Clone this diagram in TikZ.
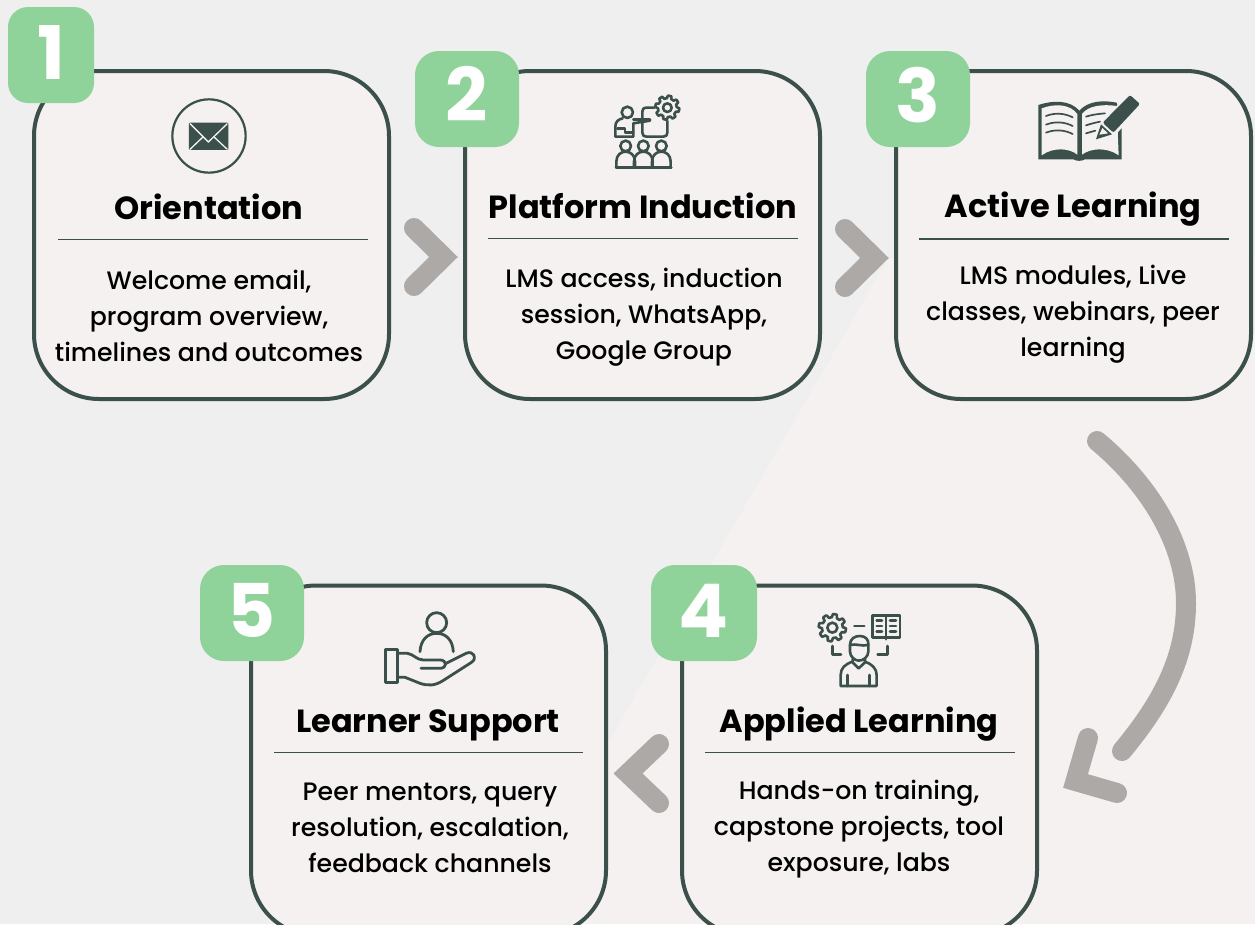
\documentclass[tikz,border=0pt]{standalone}
\usepackage{fontspec}
\setmainfont{Poppins}
\newfontfamily\bodyfont{Poppins Medium}
\definecolor{bgA}{HTML}{EFEFEF}
\definecolor{bgB}{HTML}{F4F1F0}
\definecolor{darkline}{HTML}{3B4F4B}
\definecolor{badgegreen}{HTML}{8FD39A}
\definecolor{arrowgray}{HTML}{ADA9A7}
\tikzset{
  card/.style={draw=darkline,fill=bgB,line width=4pt,rounded corners=65pt,minimum width=355pt,minimum height=#1,inner sep=0pt,outer sep=0pt},
  badge/.style={fill=badgegreen,rounded corners=24pt,inner sep=0pt,text=white,font=\fontsize{74}{74}\selectfont\bfseries},
  cardtitle/.style={font=\fontsize{32}{36}\selectfont\bfseries,text=black,inner sep=0pt},
  cardbody/.style={font=\bodyfont\fontsize{25.2}{36}\selectfont,text=black,align=center,inner sep=0pt},
  rulerline/.style={draw=darkline,line width=1.8pt},
  chev/.style={draw=arrowgray,line width=20pt,line cap=round,line join=miter,miter limit=10},
  icon/.style={draw=darkline,line width=2.6pt,line cap=round,line join=round},
  zoomed/.style={shift={#1},x=0.3333pt,y=-0.3333pt},
}
\newcommand{\gearshape}[6]{% cx cy rin rout hole lw (zoomed units)
  \draw[icon,line width=#6] plot[domain=0:360,samples=193,variable=\t]
   ({#1+(#3+(#4-#3)*(0.5+0.5*max(-1,min(1,2.5*sin(8*\t)))))*cos(\t)},
    {#2+(#3+(#4-#3)*(0.5+0.5*max(-1,min(1,2.5*sin(8*\t)))))*sin(\t)}) -- cycle;
  \draw[icon,line width=#6] (#1,#2) circle [radius=#5];
}
\begin{document}
\begin{tikzpicture}[x=1pt,y=-1pt]
\useasboundingbox (0,0) rectangle (1255,924);
\clip (0,0) rectangle (1255,924);
\fill[bgA] (0,0) rectangle (1255,924);
\fill[bgB] (888,259) -- (1255,259) -- (1255,924) -- (503,924) -- cycle;

% cards
\node[card=328pt] (box1) at (211.5,235) {};
\node[card=328pt] (box2) at (642.5,235) {};
\node[card=328pt] (box3) at (1073.5,235) {};
\node[card=350pt] (box4) at (859.5,760.5) {};
\node[card=350pt] (box5) at (428.5,760.5) {};

% badges
\node[badge,rounded corners=20pt,minimum width=86pt,minimum height=96pt] (n1) at (51,55) {\raisebox{6pt}{1}};
\node[badge,minimum width=104pt,minimum height=96pt] (n2) at (467,99) {\raisebox{11pt}{2}};
\node[badge,minimum width=104pt,minimum height=96pt] (n3) at (918,99) {\raisebox{9pt}{3}};
\node[badge,minimum width=106pt,minimum height=96pt] (n4) at (704,613) {\raisebox{4pt}{4}};
\node[badge,minimum width=104pt,minimum height=96pt] (n5) at (252,613) {\raisebox{5pt}{5}};

% titles
\node[cardtitle] (t1) at (209,207) {Orientation};
\node[cardtitle] (t2) at (643,206) {Platform Induction};
\node[cardtitle] (t3) at (1073,209) {Active Learning};
\node[cardtitle] (t4) at (859,724) {Applied Learning};
\node[cardtitle] (t5) at (428,725) {Learner Support};

% rules
\draw[rulerline] (58,239.5) -- (368,239.5);
\draw[rulerline] (488,238.5) -- (798,238.5);
\draw[rulerline] (919,239) -- (1229,239);
\draw[rulerline] (705,752.5) -- (1015,752.5);
\draw[rulerline] (274,752.5) -- (583,752.5);

% bodies
\node[cardbody] (b1) at (209,316) {Welcome email,\\program overview,\\timelines and outcomes};
\node[cardbody] (b2) at (644,317) {LMS access, induction\\session, WhatsApp,\\Google Group};
\node[cardbody] (b3) at (1073,314) {LMS modules, Live\\classes, webinars, peer\\learning};
\node[cardbody] (b4) at (859,829) {Hands-on training,\\capstone projects, tool\\exposure, labs};
\node[cardbody] (b5) at (430,828) {Peer mentors, query\\resolution, escalation,\\feedback channels};

% connectors
\coordinate (c1a) at (414,228); \coordinate (c1v) at (443.5,257); \coordinate (c1b) at (414,286);
\coordinate (c2a) at (845,229); \coordinate (c2v) at (874.5,258); \coordinate (c2b) at (845,287);
\coordinate (c3a) at (659,744); \coordinate (c3v) at (628,773.5); \coordinate (c3b) at (659,803);
\draw[chev] (c1a) -- (c1v) -- (c1b);
\draw[chev] (c2a) -- (c2v) -- (c2b);
\draw[chev] (c3a) -- (c3v) -- (c3b);
\coordinate (arcS) at (1097,441); \coordinate (arcM) at (1186,603); \coordinate (arcE) at (1122,751);
\draw[chev] (arcS) .. controls (1150,485) and (1186,545) .. (arcM) .. controls (1186,660) and (1160,705) .. (arcE);
\coordinate (ah1) at (1088,738); \coordinate (ahv) at (1075.5,781); \coordinate (ah2) at (1117,793);
\draw[chev] (ah1) -- (ahv) -- (ah2);

% icon 1: envelope
\begin{scope}[zoomed={(150,80)}]
  \draw[icon,line width=2.2pt] (177,168) circle [radius=110];
  \fill[darkline,rounded corners=1pt] (117,128) rectangle (235,210);
  \draw[bgB,line width=1.3pt] (120,131) -- (175,186) -- (232,131);
  \draw[bgB,line width=1.3pt] (120,208) -- (160,170);
  \draw[bgB,line width=1.3pt] (232,208) -- (191,170);
\end{scope}

% icon 2: presenter
\begin{scope}[zoomed={(590,80)}]
  \draw[icon] (112,97) circle [radius=17];
  \draw[icon] (130,118) -- (180,118);
  \draw[icon] (98,115) .. controls (85,118) and (76,125) .. (76,140) -- (76,170) -- (130,170) -- (130,130);
  \draw[icon] (130,130) -- (180,122);
  \draw[icon] (82,145) -- (105,145) -- (105,158) -- (130,158);
  \draw[icon] (195,83) -- (170,83) .. controls (160,83) and (157,88) .. (157,95) -- (157,158) .. controls (157,167) and (162,170) .. (170,170) -- (220,170) .. controls (228,170) and (232,166) .. (232,158) -- (232,122);
  \fill[bgB] (232,83) circle [radius=38];
  \gearshape{232}{83}{28}{36}{13}{2.6pt}
  \foreach \hx in {107,160,214}{
    \draw[icon] (\hx,198) circle [radius=16];
    \draw[icon] (\hx-28,262) -- (\hx-28,245) .. controls (\hx-28,225) and (\hx-14,215) .. (\hx,215) .. controls (\hx+14,215) and (\hx+28,225) .. (\hx+28,245) -- (\hx+28,262);
  }
  \draw[icon] (78,262) -- (244,262);
\end{scope}

% icon 3: book and pen
\begin{scope}[zoomed={(1020,80)}]
  \fill[darkline] (55,75) .. controls (100,60) and (150,60) .. (178,92) .. controls (205,62) and (250,60) .. (290,68) -- (305,120) -- (305,238) -- (195,238) .. controls (185,244) and (170,244) .. (160,238) -- (55,238) -- cycle;
  \fill[bgB] (65,85) .. controls (105,70) and (150,72) .. (172,102) -- (172,224) .. controls (150,205) and (100,200) .. (65,226) -- cycle;
  \fill[bgB] (186,102) .. controls (205,76) and (250,72) .. (290,78) -- (296,226) .. controls (260,200) and (210,205) .. (186,224) -- cycle;
  \begin{scope}[draw=darkline,line width=1.7pt,line cap=round]
    \draw (78,108) .. controls (105,97) and (135,100) .. (158,112);
    \draw (78,134) .. controls (105,123) and (135,126) .. (158,138);
    \draw (78,158) .. controls (105,147) and (135,150) .. (158,162);
    \draw (198,110) .. controls (215,104) and (235,102) .. (255,100);
    \draw (198,136) .. controls (210,132) and (225,128) .. (240,125);
    \draw (198,160) .. controls (208,157) and (216,155) .. (226,152);
  \end{scope}
  \fill[bgB] (238,180) -- (222,188) -- (232,150) -- (325,35) -- (370,72) -- (280,172) -- cycle;
  \fill[darkline,rounded corners=2pt] (248,128) -- (330,45) -- (360,72) -- (280,158) -- cycle;
  \fill[darkline] (228,178) -- (243,133) -- (276,163) -- cycle;
  \fill[bgB] (238,164) -- (247,144) -- (264,160) -- cycle;
\end{scope}

% icon 4: applied learning
\begin{scope}[zoomed={(800,600)}]
  \gearshape{97}{83}{31}{41}{15}{2.6pt}
  \draw[icon] (163,78) -- (193,78);
  \draw[icon] (218,46) rectangle (300,112);
  \draw[icon] (258,46) -- (258,118);
  \foreach \ly in {62,78,95}{
    \draw[icon] (230,\ly) -- (246,\ly);
    \draw[icon] (270,\ly) -- (288,\ly);
  }
  \draw[icon] (97,138) -- (97,163) -- (123,163);
  \draw[icon] (262,138) -- (262,163) -- (233,163);
  \draw[icon] (150,135) .. controls (150,115) and (165,108) .. (180,108) .. controls (197,108) and (207,120) .. (205,135) .. controls (185,140) and (170,130) .. (150,135);
  \draw[icon] (150,135) -- (150,155) .. controls (150,170) and (165,182) .. (176,182) .. controls (190,182) and (205,170) .. (205,155) -- (205,135);
  \draw[icon] (158,178) -- (158,185) .. controls (135,192) and (122,205) .. (122,225) -- (122,258) -- (230,258) -- (230,225) .. controls (230,205) and (215,192) .. (195,185) -- (195,178);
  \draw[icon] (158,187) -- (176,205) -- (195,187);
  \draw[icon] (143,225) -- (143,258);
  \draw[icon] (208,225) -- (208,258);
\end{scope}

% icon 5: learner support
\begin{scope}[zoomed={(370,600)}]
  \draw[icon,line width=2.8pt] (200,68) circle [radius=30];
  \draw[icon,line width=2.8pt] (150,155) .. controls (152,120) and (172,100) .. (200,100) .. controls (228,100) and (248,120) .. (250,155);
  \draw[icon,line width=2.8pt] (46,148) rectangle (82,248);
  \draw[icon,line width=2.8pt] (82,160) -- (112,160) .. controls (130,162) and (140,180) .. (160,180) -- (210,180) .. controls (232,180) and (232,205) .. (210,205) -- (153,205);
  \draw[icon,line width=2.8pt] (228,190) -- (288,160) .. controls (310,150) and (325,175) .. (303,188) -- (222,240) .. controls (195,258) and (175,258) .. (150,250) -- (105,232) -- (82,232);
\end{scope}
\end{tikzpicture}
\end{document}
